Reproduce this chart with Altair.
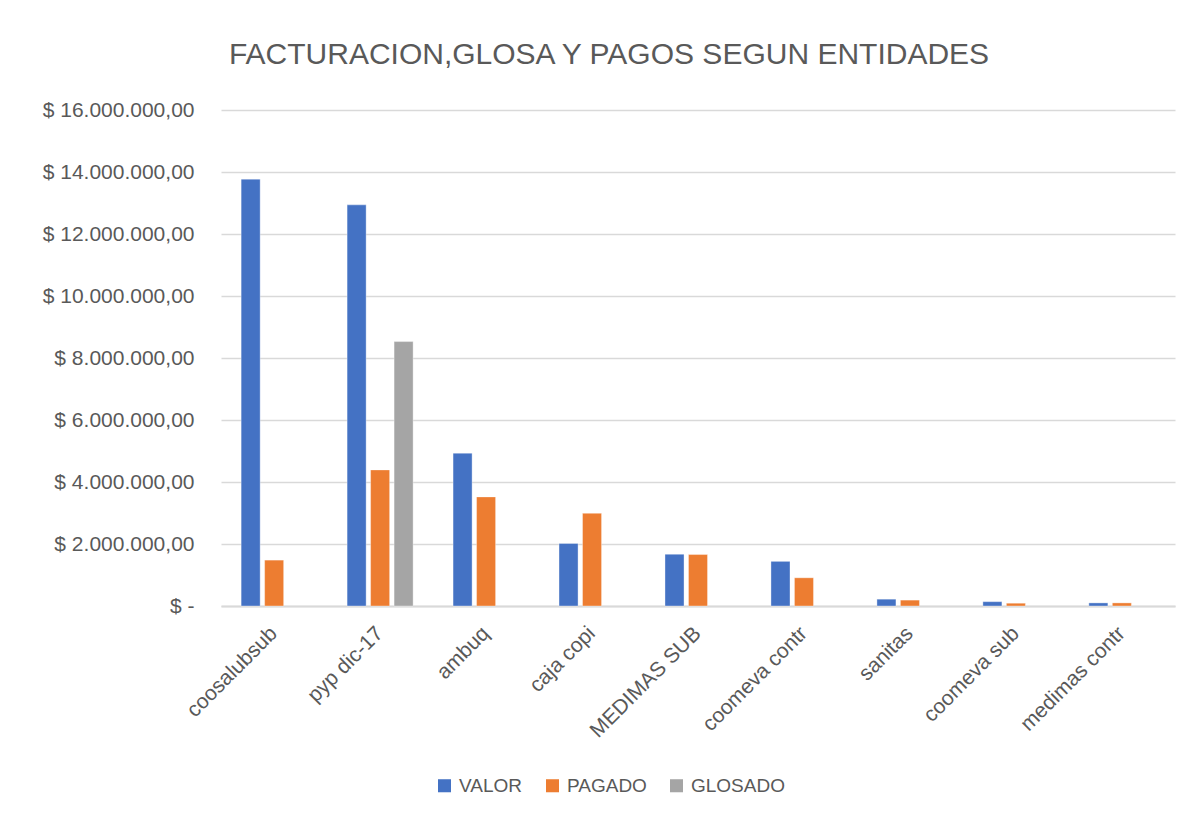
import altair as alt
import pandas as pd

categories = ["coosalubsub", "pyp dic-17", "ambuq", "caja copi", "MEDIMAS SUB",
              "coomeva contr", "sanitas", "coomeva sub", "medimas contr"]
series = ["VALOR", "PAGADO", "GLOSADO"]
valor = [13770000, 12940000, 4930000, 2020000, 1670000, 1440000, 220000, 140000, 100000]
pagado = [1480000, 4390000, 3520000, 2990000, 1660000, 910000, 190000, 90000, 100000]
glosado = [None, 8530000, None, None, None, None, None, None, None]
colors = ["#4472C4", "#ED7D31", "#A5A5A5"]
y_ticks = [0, 2000000, 4000000, 6000000, 8000000, 10000000, 12000000, 14000000, 16000000]

rows = []
for i, c in enumerate(categories):
    for s, vals in zip(series, [valor, pagado, glosado]):
        if vals[i] is not None:
            rows.append({"entidad": c, "serie": s, "valor": vals[i]})
df = pd.DataFrame(rows)

FONT = "Liberation Sans"
TXT = "#595959"

chart = alt.Chart(df).mark_bar(stroke="white", strokeWidth=0.6, strokeOpacity=0.6).encode(
    x=alt.X("entidad:N", sort=categories, title=None,
            scale=alt.Scale(paddingInner=0.377, paddingOuter=0.19),
            axis=alt.Axis(labelAngle=-45, labelAlign="right", labelBaseline="middle",
                          labelFont=FONT, labelFontSize=21, labelColor=TXT,
                          ticks=False, domain=True, domainColor="#d9d9d9", domainWidth=2,
                          labelPadding=24, grid=False)),
    xOffset=alt.XOffset("serie:N", sort=series,
                        scale=alt.Scale(domain=series, paddingInner=0.19, paddingOuter=0)),
    y=alt.Y("valor:Q", title=None,
            scale=alt.Scale(domain=[0, 16000000], nice=False),
            axis=alt.Axis(values=y_ticks, labelFont=FONT, labelFontSize=21, labelColor=TXT,
                          labelExpr="datum.value == 0 ? '$ -      ' : '$ ' + format(datum.value / 1000000, 'd') + '.000.000,00'",
                          ticks=False, domain=False, gridColor="#d9d9d9", gridWidth=1.5,
                          labelPadding=27)),
    color=alt.Color("serie:N", sort=series, title=None,
                    scale=alt.Scale(domain=series, range=colors),
                    legend=alt.Legend(orient="none", direction="horizontal",
                                      legendX=214, legendY=666,
                                      symbolType="square", symbolSize=170, symbolStrokeWidth=0,
                                      labelFont=FONT, labelFontSize=19, labelColor=TXT,
                                      columnPadding=20, labelOffset=5)),
).properties(
    width=954, height=496,
    title=alt.TitleParams("FACTURACION,GLOSA Y PAGOS SEGUN ENTIDADES", font=FONT,
                          fontSize=30, fontWeight="normal", color=TXT,
                          anchor="middle", dx=-89, offset=29),
    autosize=alt.AutoSizeParams(type="none"),
    padding={"left": 213, "top": 102, "right": 4, "bottom": 195},
).configure(background="white").configure_view(stroke=None)

chart.save("out.html", embed_options={"renderer": "svg", "actions": False})
